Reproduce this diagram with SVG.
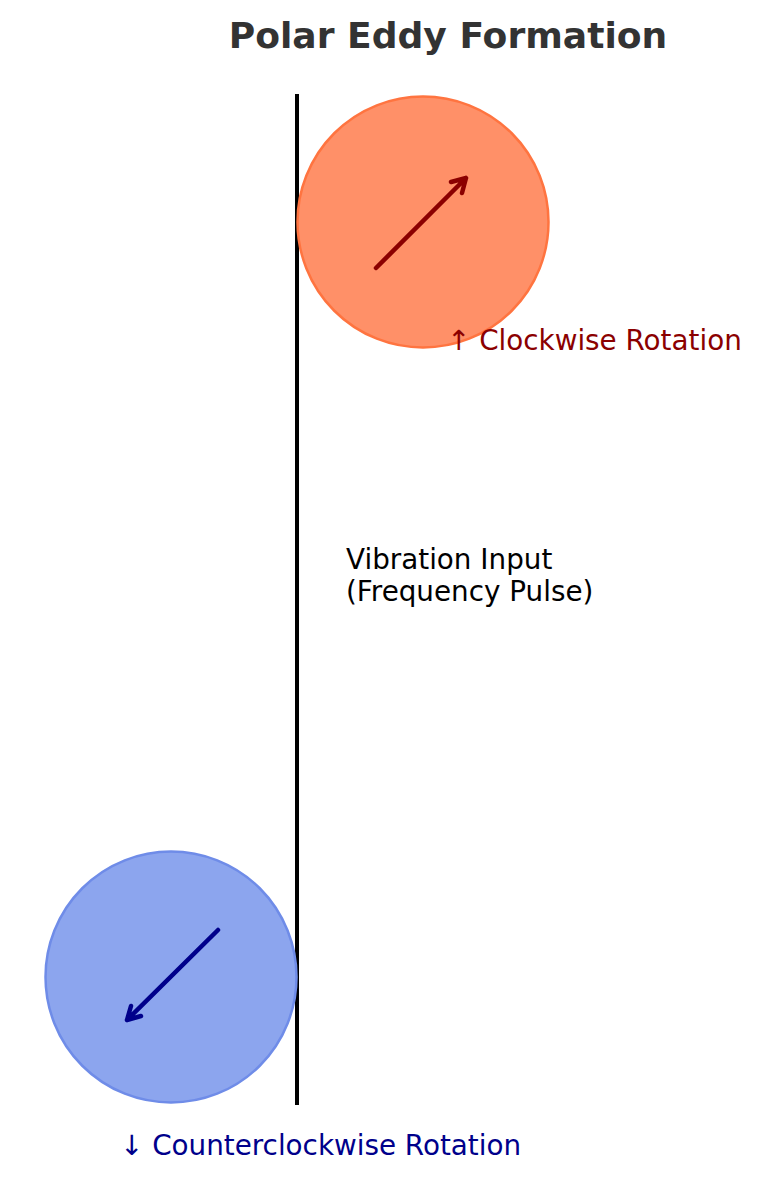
<svg xmlns="http://www.w3.org/2000/svg" width="761" height="1179" viewBox="0 0 761 1179">
<style>
text{font-family:"DejaVu Sans","Liberation Sans",sans-serif;font-size:27.8px}
.title{font-weight:bold;fill:#333333;font-size:36.1px}
.arr{fill:none;stroke-width:4.5;stroke-linecap:round;stroke-linejoin:round}
</style>
<rect width="761" height="1179" fill="#ffffff"/>
<g id="connectors">
<line id="vibration-axis" x1="297" y1="94" x2="297" y2="1105" stroke="#000000" stroke-width="4"/>
</g>
<g id="title"><text class="title" x="448" y="48" text-anchor="middle">Polar Eddy Formation</text></g>
<g id="eddy-clockwise">
<circle cx="423" cy="222" r="125.5" fill="#FF9068" stroke="#FF7440" stroke-width="2.5"/>
<path class="arr" d="M376,268 L466,178 M451,182 L466,178 L462,193" stroke="#8B0000"/>
<text x="447" y="350" fill="#8B0000">↑ Clockwise Rotation</text>
</g>
<g id="vibration-input">
<text x="346" y="569" fill="#000000">Vibration Input</text>
<text x="346" y="601" fill="#000000">(Frequency Pulse)</text>
</g>
<g id="eddy-counterclockwise">
<circle cx="171" cy="977" r="125.5" fill="#8CA5EE" stroke="#6F8CE8" stroke-width="2.5"/>
<path class="arr" d="M218,930 L127,1020 M131,1006 L127,1020 L141,1016" stroke="#00008B"/>
<text x="120" y="1155" fill="#00008B">↓ Counterclockwise Rotation</text>
</g>
</svg>
